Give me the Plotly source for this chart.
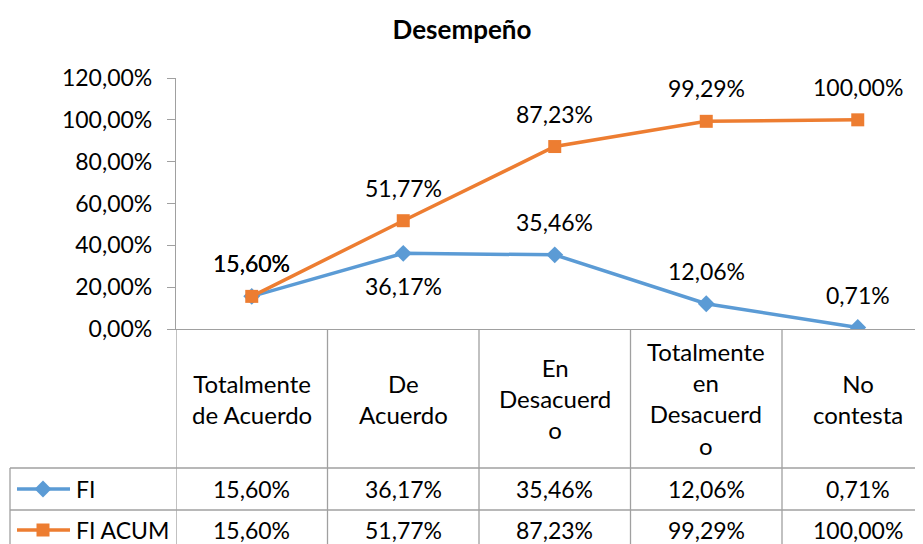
import plotly.graph_objects as go

categories = ["Totalmente<br>de Acuerdo", "De<br>Acuerdo", "En<br>Desacuerd<br>o",
              "Totalmente<br>en<br>Desacuerd<br>o", "No<br>contesta"]
fi = [0.1560, 0.3617, 0.3546, 0.1206, 0.0071]
fi_acum = [0.1560, 0.5177, 0.8723, 0.9929, 1.0000]
series_names = ["FI", "FI ACUM"]
y_ticks = [0, 0.2, 0.4, 0.6, 0.8, 1.0, 1.2]

# page body margin offset (browser default 8px)
OFF = 8
W, H = 923 - OFF, 544 - OFF
BLUE = "#5B9BD5"
ORANGE = "#ED7D31"
GRID = "#A0A0A0"
FONT = "Lato"
FS = 23
FS_CAT = 24

def px(v):
    return v - OFF

plot_left, plot_right = px(176), W
plot_top, plot_bottom = px(78), px(329)
col_w = 151.5
row1_y, row2_y, table_bottom = px(468), px(510), px(560)
legend_left = px(10)

def fmt(v):
    return f"{v*100:.2f}%".replace(".", ",")

x_idx = list(range(len(categories)))

fig = go.Figure()
fig.add_trace(go.Scatter(x=x_idx, y=fi, mode="lines+markers", name=series_names[0],
                         line=dict(color=BLUE, width=3.5),
                         marker=dict(symbol="diamond", size=13, color=BLUE),
                         xaxis="x", yaxis="y", showlegend=False))
fig.add_trace(go.Scatter(x=x_idx, y=fi_acum, mode="lines+markers", name=series_names[1],
                         line=dict(color=ORANGE, width=3.5),
                         marker=dict(symbol="square", size=13, color=ORANGE),
                         xaxis="x", yaxis="y", showlegend=False))

leg_rows = [px(489), px(530)]
for name, col, sym, yy in [(series_names[0], BLUE, "diamond", leg_rows[0]),
                           (series_names[1], ORANGE, "square", leg_rows[1])]:
    fig.add_trace(go.Scatter(x=[px(17), px(43), px(70)], y=[yy, yy, yy], mode="lines",
                             xaxis="x2", yaxis="y2",
                             line=dict(color=col, width=3.5), showlegend=False, hoverinfo="skip"))
    fig.add_trace(go.Scatter(x=[px(43)], y=[yy], mode="markers", xaxis="x2", yaxis="y2",
                             marker=dict(symbol=sym, size=13, color=col), showlegend=False,
                             hoverinfo="skip"))

annotations = []
fi_pos = [1, -1, 1, 1, 1]
for i, v in enumerate(fi):
    annotations.append(dict(x=i, y=v, xref="x", yref="y", text=fmt(v), showarrow=False,
                            yshift=33 * fi_pos[i], font=dict(family=FONT, size=FS, color="#000")))
for i, v in enumerate(fi_acum):
    annotations.append(dict(x=i, y=v, xref="x", yref="y", text=fmt(v), showarrow=False,
                            yshift=33, font=dict(family=FONT, size=FS, color="#000")))

for i, c in enumerate(categories):
    annotations.append(dict(x=i, y=(plot_bottom + row1_y) / 2, xref="x", yref="y2", text=c,
                            showarrow=False, font=dict(family=FONT, size=FS_CAT, color="#000")))
    annotations.append(dict(x=i, y=leg_rows[0], xref="x", yref="y2", text=fmt(fi[i]),
                            showarrow=False, font=dict(family=FONT, size=FS, color="#000")))
    annotations.append(dict(x=i, y=leg_rows[1], xref="x", yref="y2", text=fmt(fi_acum[i]),
                            showarrow=False, font=dict(family=FONT, size=FS, color="#000")))
for name, yy in zip(series_names, leg_rows):
    annotations.append(dict(x=px(74), y=yy, xref="x2", yref="y2", text=name, xanchor="left",
                            showarrow=False, font=dict(family=FONT, size=FS, color="#000")))

shapes = []
for i in range(len(categories) + 1):
    shapes.append(dict(type="line", xref="x", yref="y2", x0=i - 0.5, x1=i - 0.5,
                       y0=plot_bottom, y1=table_bottom, line=dict(color=GRID, width=1.3)))
for yy in [row1_y, row2_y]:
    shapes.append(dict(type="line", xref="x2", yref="y2", x0=legend_left, x1=W + 10,
                       y0=yy, y1=yy, line=dict(color=GRID, width=1.3)))
shapes.append(dict(type="line", xref="x2", yref="y2", x0=legend_left, x1=legend_left,
                   y0=row1_y, y1=table_bottom, line=dict(color=GRID, width=1.3)))

fig.update_layout(
    width=W, height=H,
    margin=dict(l=0, r=0, t=0, b=0, pad=0, autoexpand=False),
    paper_bgcolor="white", plot_bgcolor="rgba(0,0,0,0)",
    separators=", ",
    showlegend=False,
    title=dict(text="<b>Desempeño</b>", x=(462 - OFF) / W, xanchor="center",
               y=1 - px(30) / H, yanchor="middle", automargin=False,
               font=dict(family=FONT, size=26, color="#000")),
    xaxis=dict(domain=[plot_left / W, 1], range=[-0.5, -0.5 + (plot_right - plot_left) / col_w],
               showticklabels=False, showgrid=False, zeroline=False, showline=True,
               linecolor=GRID, linewidth=1.3, ticks="", anchor="y", fixedrange=True,
               automargin=False),
    yaxis=dict(domain=[(H - plot_bottom) / H, (H - plot_top) / H], range=[0, 1.2],
               tickvals=y_ticks, tickformat=".2%", ticks="outside", ticklen=8, tickcolor=GRID,
               tickwidth=1.3, showline=True, linecolor=GRID, linewidth=1.3, showgrid=False,
               zeroline=False, ticklabelstandoff=10, automargin=False,
               tickfont=dict(family=FONT, size=FS, color="#000"), anchor="x", fixedrange=True),
    xaxis2=dict(domain=[0, 1], range=[0, W], visible=False, anchor="y2", automargin=False,
                fixedrange=True),
    yaxis2=dict(domain=[0, 1], range=[H, 0], visible=False, anchor="x2", automargin=False,
                fixedrange=True),
    annotations=annotations,
    shapes=shapes,
    font=dict(family=FONT, size=FS, color="#000"),
)

fig.write_html("out.html")
